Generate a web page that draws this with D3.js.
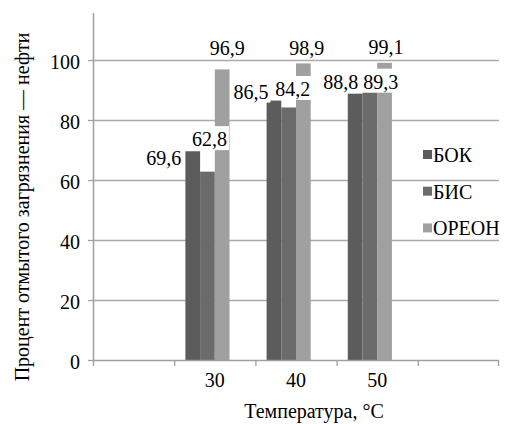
<!DOCTYPE html>
<html><head><meta charset="utf-8"><script src="https://d3js.org/d3.v7.min.js"></script></head>
<body style="margin:0">
<script>
// data
const categories = ["30", "40", "50"];
const seriesNames = ["БОК", "БИС", "ОРЕОН"];
const bok = [69.6, 86.5, 88.8];
const bis = [62.8, 84.2, 89.3];
const oreon = [96.9, 98.9, 99.1];
const yTicks = [0, 20, 40, 60, 80, 100];

const seriesValues = [bok, bis, oreon];
const colors = ["#5c5c5c", "#6b6b6b", "#a0a0a0"];

// label nudges (dx, dy from bar centre / bar top), Excel placed them by hand
const labelNudge = [
  [[-29, 14], [-23, -2], [-14.5, -5]],
  [[2, -25.5], [4, -11.5], [11, -3.5]],
  [[5, -14.5], [3.5, -8.5], [1.5, -8.5]]
];

const W = 505, H = 424;
const margin = {top: 13, right: 6, bottom: 64, left: 93};
const width = W - margin.left - margin.right,
      height = H - margin.top - margin.bottom;

const svg = d3.select("body").append("svg")
    .attr("width", W).attr("height", H);
const g = svg.append("g")
    .attr("transform", `translate(${margin.left},${margin.top})`);

// every text gets the font set on itself
function label(sel) {
  return sel.attr("font-family", "Liberation Serif")
    .style("font-family", "'Liberation Serif'")
    .attr("font-size", 20);
}

// empty slots at both ends, as in the original
const xDomain = ["_a"].concat(categories, ["_b"]);
const x0 = d3.scaleBand().domain(xDomain).range([0, width]);
// 4 slots per group, the last one stays empty
const x1 = d3.scaleBand().domain(seriesNames.concat(["_"]))
    .range([0, x0.bandwidth()]).paddingOuter(0.76);

const y = d3.scaleLinear().domain([0, 115.7]).range([height, 0]);

// gridlines
g.selectAll(".grid").data(yTicks.filter(d => d > 0)).enter()
  .append("line")
    .attr("x1", 0).attr("x2", width)
    .attr("y1", d => Math.round(y(d)) + 0.5).attr("y2", d => Math.round(y(d)) + 0.5)
    .attr("stroke", "#ababab").attr("stroke-width", 1.3);

// y axis
g.append("line")
  .attr("x1", 0.5).attr("x2", 0.5).attr("y1", 0).attr("y2", height + 6)
  .attr("stroke", "#a0a0a0").attr("stroke-width", 1.5);
g.selectAll(".ytick").data(yTicks).enter()
  .append("line")
    .attr("x1", -5).attr("x2", 0)
    .attr("y1", d => Math.round(y(d)) + 0.5).attr("y2", d => Math.round(y(d)) + 0.5)
    .attr("stroke", "#a0a0a0").attr("stroke-width", 1.3);
g.selectAll(".ylab").data(yTicks).enter()
  .append("text")
    .attr("x", -13).attr("y", d => y(d) + 9)
    .attr("text-anchor", "end")
    .call(label)
    .text(d => d);

// bars
const bars = g.selectAll(".grp").data(categories).enter()
  .append("g").attr("transform", d => `translate(${x0(d)},0)`);
seriesNames.forEach((s, si) => {
  bars.append("rect")
    .attr("x", x1(s))
    .attr("width", x1.bandwidth())
    .attr("y", (d, i) => y(seriesValues[si][i]))
    .attr("height", (d, i) => height - y(seriesValues[si][i]))
    .attr("fill", colors[si]);
});

// x axis
g.append("line")
  .attr("x1", 0).attr("x2", width)
  .attr("y1", height + 0.5).attr("y2", height + 0.5)
  .attr("stroke", "#a0a0a0").attr("stroke-width", 1.5);
g.selectAll(".xtick").data(xDomain.slice(1).concat([null])).enter()
  .append("line")
    .attr("x1", d => d === null ? width - 0.5 : x0(d) + 0.5)
    .attr("x2", d => d === null ? width - 0.5 : x0(d) + 0.5)
    .attr("y1", height).attr("y2", height + 6)
    .attr("stroke", "#a0a0a0").attr("stroke-width", 1.3);
g.selectAll(".xlab").data(categories).enter()
  .append("text")
    .attr("x", d => x0(d) + x0.bandwidth() / 2)
    .attr("y", height + 27)
    .attr("text-anchor", "middle")
    .call(label)
    .text(d => d);

// data labels with white boxes (serif digits are half an em, comma a quarter)
seriesNames.forEach((s, si) => {
  categories.forEach((c, ci) => {
    const v = seriesValues[si][ci];
    const txt = String(v).replace(".", ",");
    const cx = x0(c) + x1(s) + x1.bandwidth() / 2 + labelNudge[si][ci][0];
    const by = y(v) + labelNudge[si][ci][1];
    const tw = txt.replace(",", "").length * 10 + 5;
    g.append("rect")
      .attr("x", cx - tw / 2 - 2).attr("width", tw + 4)
      .attr("y", by - 20).attr("height", 24)
      .attr("fill", "#fff");
    g.append("text")
      .attr("x", cx).attr("y", by)
      .attr("text-anchor", "middle")
      .call(label)
      .text(txt);
  });
});

// legend
const legend = svg.append("g").attr("transform", "translate(423,162)");
seriesNames.forEach((s, i) => {
  legend.append("rect")
    .attr("x", 0).attr("y", i * 36.7 - 12)
    .attr("width", 9).attr("height", 9)
    .attr("fill", colors[i]);
  legend.append("text")
    .attr("x", 10).attr("y", i * 36.7)
    .call(label)
    .text(s);
});

// axis titles
svg.append("text")
  .attr("transform", "translate(29,207) rotate(-90)")
  .attr("text-anchor", "middle")
  .call(label)
  .text("Процент отмытого загрязнения — нефти");
svg.append("text")
  .attr("x", 314).attr("y", 418)
  .attr("text-anchor", "middle")
  .call(label)
  .text("Температура, °C");
</script>
</body></html>
